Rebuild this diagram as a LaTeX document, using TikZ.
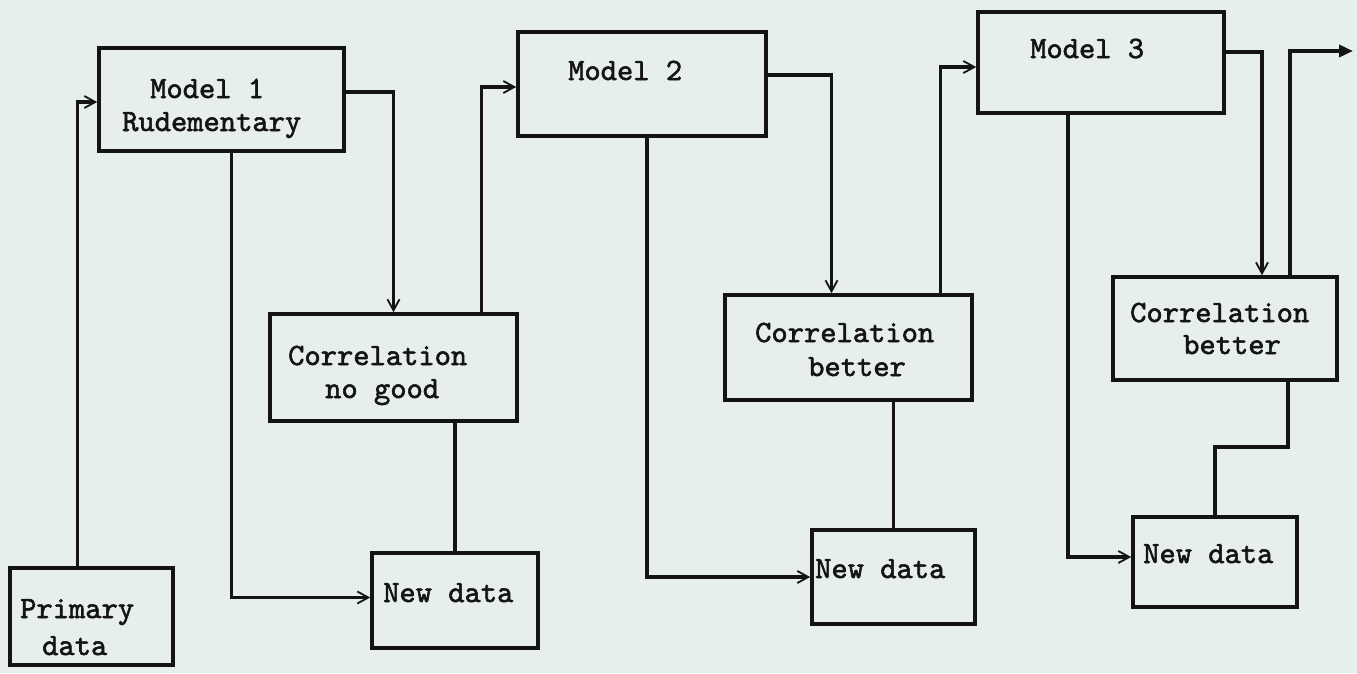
\documentclass[tikz,border=0pt]{standalone}
\usepackage{fontspec}
\usetikzlibrary{arrows.meta}
\newfontfamily\typewriter[FakeBold=1.8]{lmmono10-regular.otf}
\definecolor{paper}{RGB}{230,239,238}
\definecolor{ink}{RGB}{20,20,20}

\begin{document}
\begin{tikzpicture}[x=1pt,y=-1pt,
  box/.style={draw=ink, line width=3.6pt, inner sep=0pt},
  lbl/.style={font=\typewriter\fontsize{31}{33}\selectfont, text=ink, inner sep=0pt, anchor=base west},
  conn/.style={draw=ink, line width=3.4pt},
  arr/.style={conn, -{Straight Barb[length=11pt,width=12pt,line width=1.8pt]}},
  outarr/.style={conn, -{Triangle[length=14pt,width=12pt]}}]

% paper
\fill[paper] (0,0) rectangle (1357,673);
\useasboundingbox (0,0) rectangle (1357,673);

% boxes
\node[box, minimum width=245pt, minimum height=103pt] (m1)  at (221.5,99.5)  {};
\node[box, minimum width=248pt, minimum height=104pt] (m2)  at (642,84)      {};
\node[box, minimum width=246pt, minimum height=101pt] (m3)  at (1101,62.5)   {};
\node[box, minimum width=247pt, minimum height=107pt] (cng) at (393.5,367.5) {};
\node[box, minimum width=247pt, minimum height=105pt] (cb2) at (848.5,347.5) {};
\node[box, minimum width=224pt, minimum height=103pt] (cb3) at (1225,328.5)  {};
\node[box, minimum width=163pt, minimum height=97pt]  (pd)  at (91.5,616.5)  {};
\node[box, minimum width=166pt, minimum height=95pt]  (nd1) at (455,600.5)   {};
\node[box, minimum width=163pt, minimum height=94pt]  (nd2) at (893.5,577)   {};
\node[box, minimum width=164pt, minimum height=90pt]  (nd3) at (1215,562)    {};

% typed labels, one line each
\node[lbl] (m1a) at (150,98)   {Model 1};
\node[lbl] (m1b) at (122,131)  {Rudementary};
\node[lbl] (m2a) at (568,80)   {Model 2};
\node[lbl] (m3a) at (1030,58)  {Model 3};
\node[lbl] (cna) at (288,365)  {Correlation};
\node[lbl] (cnb) at (325,398)  {no good};
\node[lbl] (c2a) at (755,342)  {Correlation};
\node[lbl] (c2b) at (808,376)  {better};
\node[lbl] (c3a) at (1130,322) {Correlation};
\node[lbl] (c3b) at (1183,354) {better};
\node[lbl] (pda) at (20,618)   {Primary};
\node[lbl] (pdb) at (42,655)   {data};
\node[lbl] (n1a) at (383,602)  {New data};
\node[lbl] (n2a) at (815,578)  {New data};
\node[lbl] (n3a) at (1143,563) {New data};

\coordinate (exit) at (1353,51);

% connectors
\draw[arr] ([xshift=-14pt]pd.north) |- ([yshift=-2.5pt]m1.west);
\draw[arr] ([yshift=7.5pt]m1.east) -| (cng.north);
\draw[arr] ([xshift=10pt]m1.south) |- ([yshift=3pt]nd1.west);
\draw[arr] ([xshift=88pt]cng.north) |- ([yshift=-3pt]m2.west);
\draw[conn] (cng.south -| nd1.north) -- (nd1.north);
\draw[arr] ([yshift=9pt]m2.east) -| ([xshift=-17pt]cb2.north);
\draw[arr] ([xshift=5pt]m2.south) |- (nd2.west);
\draw[arr] ([xshift=92pt]cb2.north) |- ([yshift=-4.5pt]m3.west);
\draw[conn] (cb2.south -| nd2.north) -- (nd2.north);
\draw[arr] ([yshift=10.5pt]m3.east) -| ([xshift=37pt]cb3.north);
\draw[outarr] ([xshift=65pt]cb3.north) |- (exit);
\draw[arr] ([xshift=-33pt]m3.south) |- ([yshift=5pt]nd3.west);
\draw[conn] ([xshift=63pt]cb3.south) -- ++(0,65) -| (nd3.north);
\end{tikzpicture}
\end{document}
